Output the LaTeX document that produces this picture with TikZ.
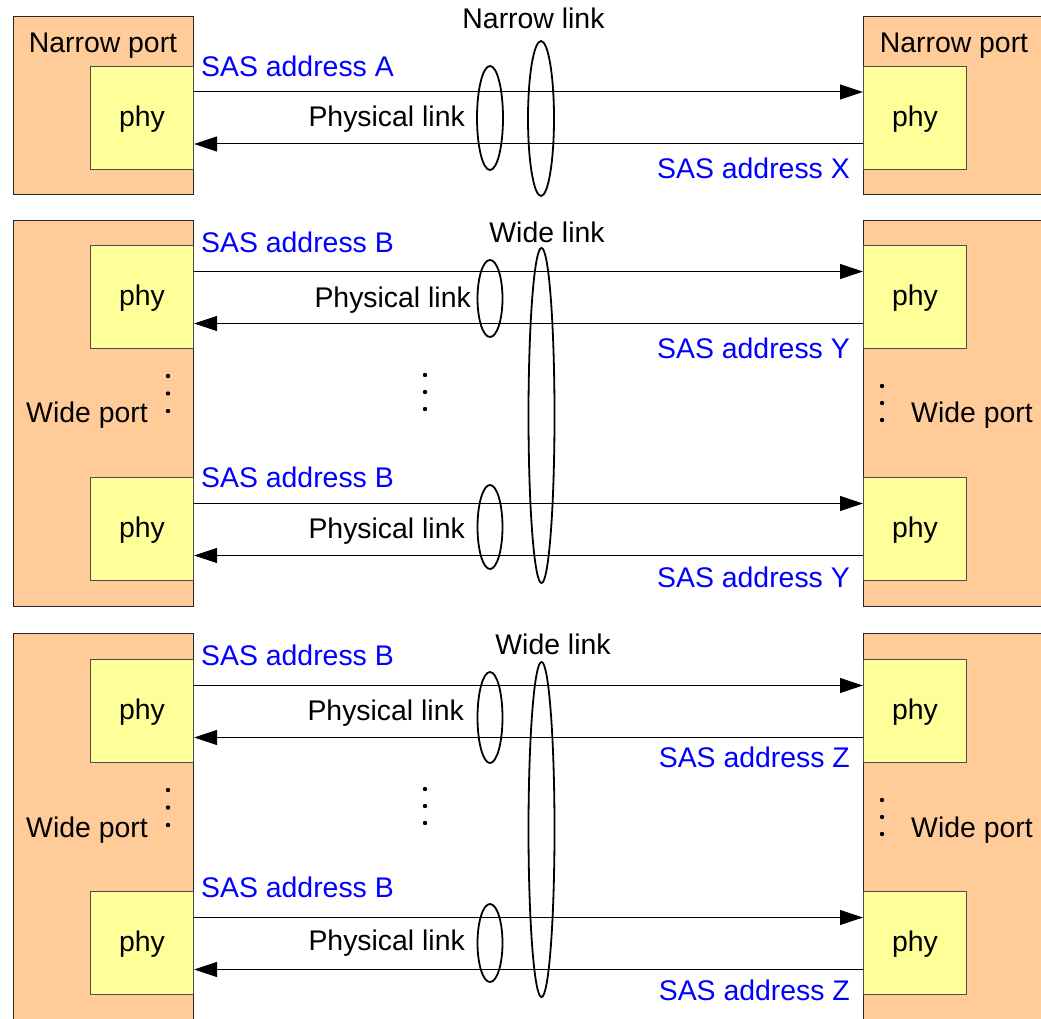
\documentclass[tikz,border=0pt]{standalone}
\usepackage{fontspec}
\setmainfont{Liberation Sans}
\usetikzlibrary{arrows.meta}
\definecolor{portfill}{HTML}{FFCC99}
\definecolor{phyfill}{HTML}{FFFF99}
\definecolor{sasblue}{HTML}{0000FF}
\begin{document}
\begin{tikzpicture}[x=1pt,y=-1pt,
  lbl/.style={font=\fontsize{28.4}{32}\selectfont, inner sep=0pt},
  sas/.style={lbl, text=sasblue},
  portbox/.style={draw=black!85, fill=portfill, line width=1pt, inner sep=0pt, anchor=north west, minimum width=180pt},
  phybox/.style={draw=black!70, fill=phyfill, line width=1pt, inner sep=0pt, anchor=north west, minimum width=103pt, minimum height=103pt, font=\fontsize{28.4}{32}\selectfont, text depth=3pt},
  linkarrow/.style={line width=1pt, -{Triangle[length=23pt,width=15pt]}},
  ring/.style={line width=1.8pt},
  dotmark/.style={fill=black}
]
\useasboundingbox (0,0) rectangle (1041,1019);
\fill[white] (0,0) rectangle (1041,1019);
\clip (0,0) rectangle (1041,1019);

% ---------------- Section 1: narrow link ----------------
\node[portbox, minimum height=178pt] (NL) at (13,16) {};
\node[portbox, minimum width=200pt, minimum height=178pt] (NR) at (863,16) {};
\node[lbl, anchor=base] (NLt) at (103,53) {Narrow port};
\node[lbl, anchor=base] (NRt) at (954,53) {Narrow port};
\node[phybox] (A1) at (90,66) {phy};
\node[phybox] (B1) at (863,66) {phy};
\draw[linkarrow] ([yshift=26pt]A1.east) -- ([yshift=26pt]B1.west);
\draw[linkarrow] ([yshift=-26pt]B1.west) -- ([yshift=-26pt]A1.east);
\node[sas, anchor=base west] (s1a) at (201,77) {SAS address A};
\node[lbl, anchor=base east] (s1p) at (465,127) {Physical link};
\node[sas, anchor=base east] (s1x) at (850,179) {SAS address X};
\node[lbl, anchor=base] (s1n) at (533.5,29) {Narrow link};
\draw[ring] (490,118) ellipse [x radius=13pt, y radius=52pt];
\draw[ring] (541,118.5) ellipse [x radius=13pt, y radius=77.5pt];

% ---------------- Section 2: wide link (Y) ----------------
\node[portbox, minimum height=386pt] (WL2) at (13,220) {};
\node[portbox, minimum width=200pt, minimum height=386pt] (WR2) at (863,220) {};
\node[phybox] (A2) at (90,245) {phy};
\node[phybox] (B2) at (863,245) {phy};
\node[phybox] (A3) at (90,477) {phy};
\node[phybox] (B3) at (863,477) {phy};
\draw[linkarrow] ([yshift=25.5pt]A2.east) -- ([yshift=25.5pt]B2.west);
\draw[linkarrow] ([yshift=-26.5pt]B2.west) -- ([yshift=-26.5pt]A2.east);
\draw[linkarrow] ([yshift=25.5pt]A3.east) -- ([yshift=25.5pt]B3.west);
\draw[linkarrow] ([yshift=-26.5pt]B3.west) -- ([yshift=-26.5pt]A3.east);
\node[sas, anchor=base west] (s2b) at (201,252) {SAS address B};
\node[lbl, anchor=base east] (s2p) at (471,307) {Physical link};
\node[sas, anchor=base east] (s2y) at (850,358) {SAS address Y};
\node[sas, anchor=base west] (s3b) at (201,487) {SAS address B};
\node[lbl, anchor=base east] (s3p) at (465,538) {Physical link};
\node[sas, anchor=base east] (s3y) at (850,587) {SAS address Y};
\node[lbl, anchor=base] (s2w) at (547,242) {Wide link};
\node[lbl, anchor=base west] (WL2t) at (26,422) {Wide port};
\node[lbl, anchor=base west] (WR2t) at (911,422) {Wide port};
\draw[ring] (490,298.5) ellipse [x radius=12.5pt, y radius=38.5pt];
\draw[ring] (490,527) ellipse [x radius=12.5pt, y radius=42pt];
\draw[ring] (541.5,415.5) ellipse [x radius=13pt, y radius=167.5pt];
\foreach \yy in {376,393.5,411} \fill[dotmark] (168,\yy) circle [radius=2.2pt];
\foreach \yy in {386,403,420} \fill[dotmark] (882,\yy) circle [radius=2.2pt];
\foreach \yy in {375,392,409} \fill[dotmark] (425,\yy) circle [radius=2.2pt];

% ---------------- Section 3: wide link (Z) ----------------
\node[portbox, minimum height=400pt] (WL3) at (13,633) {};
\node[portbox, minimum width=200pt, minimum height=400pt] (WR3) at (863,633) {};
\node[phybox] (A4) at (90,659) {phy};
\node[phybox] (B4) at (863,659) {phy};
\node[phybox] (A5) at (90,891) {phy};
\node[phybox] (B5) at (863,891) {phy};
\draw[linkarrow] ([yshift=25.5pt]A4.east) -- ([yshift=25.5pt]B4.west);
\draw[linkarrow] ([yshift=-26.5pt]B4.west) -- ([yshift=-26.5pt]A4.east);
\draw[linkarrow] ([yshift=25.5pt]A5.east) -- ([yshift=25.5pt]B5.west);
\draw[linkarrow] ([yshift=-26.5pt]B5.west) -- ([yshift=-26.5pt]A5.east);
\node[sas, anchor=base west] (s4b) at (201,665) {SAS address B};
\node[lbl, anchor=base east] (s4p) at (464,720) {Physical link};
\node[sas, anchor=base east] (s4z) at (850,767) {SAS address Z};
\node[sas, anchor=base west] (s5b) at (201,897) {SAS address B};
\node[lbl, anchor=base east] (s5p) at (465,950) {Physical link};
\node[sas, anchor=base east] (s5z) at (850,1000) {SAS address Z};
\node[lbl, anchor=base] (s4w) at (553,654) {Wide link};
\node[lbl, anchor=base west] (WL3t) at (26,837) {Wide port};
\node[lbl, anchor=base west] (WR3t) at (911,837) {Wide port};
\draw[ring] (490,717.5) ellipse [x radius=12.5pt, y radius=45.5pt];
\draw[ring] (490,943) ellipse [x radius=12.5pt, y radius=39pt];
\draw[ring] (541.5,829.5) ellipse [x radius=13pt, y radius=167.5pt];
\foreach \yy in {790,807.5,825} \fill[dotmark] (168,\yy) circle [radius=2.2pt];
\foreach \yy in {800,817,834} \fill[dotmark] (882,\yy) circle [radius=2.2pt];
\foreach \yy in {789,806,823} \fill[dotmark] (425,\yy) circle [radius=2.2pt];
\end{tikzpicture}
\end{document}
